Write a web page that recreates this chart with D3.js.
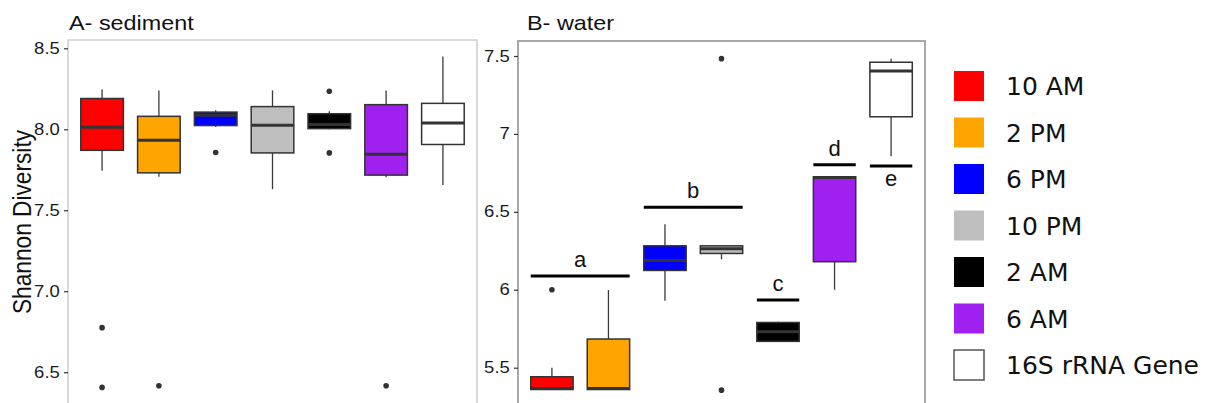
<!DOCTYPE html>
<html>
<head>
<meta charset="utf-8">
<script src="https://d3js.org/d3.v7.min.js"></script>
<style>
    body { margin: 0; background: #fff; }
    text { font-family: "Liberation Sans", Arial, sans-serif; }
</style>
</head>
<body>
<script>
'use strict';

// groups (time of day) and their fill colours
const groups = ["10 AM", "2 PM", "6 PM", "10 PM", "2 AM", "6 AM", "16S rRNA Gene"];
const fills = ["#FF0000", "#FFA500", "#0000FF", "#BEBEBE", "#000000", "#A020F0", "#FFFFFF"];

// A- sediment box stats
const sedLow  = [7.744, 7.707, 8.014, 7.630, 8.000, 7.703, 7.656];
const sedQ1   = [7.870, 7.731, 8.023, 7.854, 8.004, 7.717, 7.906];
const sedMed  = [8.012, 7.932, 8.086, 8.025, 8.030, 7.846, 8.039];
const sedQ3   = [8.190, 8.080, 8.106, 8.140, 8.096, 8.152, 8.160];
const sedHigh = [8.246, 8.240, 8.117, 8.240, 8.112, 8.240, 8.449];
const sedOutGroup = [0, 0, 1, 2, 4, 4, 5];
const sedOutValue = [6.775, 6.406, 6.416, 7.857, 8.235, 7.854, 6.416];
const sedTicks = [6.5, 7.0, 7.5, 8.0, 8.5];

// B- water box stats
const watLow  = [5.360, 5.360, 5.930, 6.195, 5.665, 6.000, 6.856];
const watQ1   = [5.360, 5.360, 6.124, 6.233, 5.669, 6.180, 7.110];
const watMed  = [5.367, 5.367, 6.188, 6.263, 5.730, 6.720, 7.404];
const watQ3   = [5.442, 5.684, 6.282, 6.282, 5.790, 6.725, 7.460];
const watHigh = [5.499, 5.998, 6.420, 6.282, 5.795, 6.725, 7.483];
const watOutGroup = [0, 3, 3];
const watOutValue = [6.000, 7.483, 5.356];
const watTicks = [5.5, 6, 6.5, 7, 7.5];

// significance groups on the water panel
const sigLabels = ["a", "b", "c", "d", "e"];
const sigFrom   = [0, 2, 4, 5, 6];
const sigTo     = [1, 3, 4, 5, 6];
const sigValue  = [6.088, 6.529, 5.934, 6.802, 6.794];
const sigBelow  = [false, false, false, false, true];

// the figure was stretched sideways, text too
const stretch = 1.17;

let svg = d3.select("body").append("svg")
    .attr("width", 1209)
    .attr("height", 403);

drawPanel({
    title: "A- sediment", titleX: 69,
    left: 68, right: 477, top: 40, bottom: 430,
    domain: [6.5, 8.5], range: [372.2, 48.3],
    ticks: sedTicks, fmt: d3.format(".1f"),
    border: "#c9c9c9", borderWidth: 1.4,
    low: sedLow, q1: sedQ1, med: sedMed, q3: sedQ3, high: sedHigh,
    outGroup: sedOutGroup, outValue: sedOutValue
});

let water = drawPanel({
    title: "B- water", titleX: 527,
    left: 518, right: 925, top: 41, bottom: 430,
    domain: [5.5, 7.5], range: [367.7, 56],
    ticks: watTicks, fmt: (d) => String(d),
    border: "#a8a8a8", borderWidth: 2,
    low: watLow, q1: watQ1, med: watMed, q3: watQ3, high: watHigh,
    outGroup: watOutGroup, outValue: watOutValue
});

drawSignificance(water);
drawLegend();

// y axis title
svg.append("text")
    .attr("transform", "translate(31, 222)rotate(-90)scale(1," + stretch + ")")
    .attr("text-anchor", "middle")
    .style("font-size", "22.7px")
    .style("fill", "#111")
    .text("Shannon Diversity");

// draw one boxplot panel, returns its scales
function drawPanel(p) {
    let xScale = d3.scaleBand()
        .domain(groups)
        .range([p.left, p.right])
        .paddingInner(0.25)
        .paddingOuter(0.225);

    let yScale = d3.scaleLinear()
        .domain(p.domain)
        .range(p.range);

    let g = svg.append("g");

    // panel border
    g.append("rect")
        .attr("x", p.left)
        .attr("y", p.top)
        .attr("width", p.right - p.left)
        .attr("height", p.bottom - p.top)
        .attr("fill", "none")
        .attr("stroke", p.border)
        .attr("stroke-width", p.borderWidth);

    // y axis ticks and labels
    let yAxis = d3.axisLeft(yScale)
        .tickValues(p.ticks)
        .tickFormat(p.fmt)
        .tickSize(4)
        .tickPadding(3);
    let ax = g.append("g")
        .attr("transform", "translate(" + p.left + ",0)")
        .call(yAxis);
    ax.select(".domain").remove();
    ax.selectAll(".tick line").attr("stroke", "#333").attr("stroke-width", 1.2);
    ax.selectAll(".tick text")
        .attr("transform", "scale(" + stretch + ",1)")
        .style("font-size", "15.8px")
        .style("font-family", "Liberation Sans")
        .attr("fill", "#1a1a1a");

    let idx = d3.range(groups.length);
    let cx = (i) => xScale(groups[i]) + xScale.bandwidth() / 2;

    // whiskers
    g.selectAll(".whisker")
        .data(idx)
        .enter()
        .append("line")
        .attr("x1", cx)
        .attr("x2", cx)
        .attr("y1", (i) => yScale(p.high[i]))
        .attr("y2", (i) => yScale(p.low[i]))
        .attr("stroke", "#3a3a3a")
        .attr("stroke-width", 1.3);

    // boxes
    g.selectAll(".box")
        .data(idx)
        .enter()
        .append("rect")
        .attr("x", (i) => xScale(groups[i]))
        .attr("width", xScale.bandwidth())
        .attr("y", (i) => yScale(p.q3[i]))
        .attr("height", (i) => Math.max(yScale(p.q1[i]) - yScale(p.q3[i]), 0.5))
        .attr("fill", (i) => fills[i])
        .attr("stroke", "#333")
        .attr("stroke-width", 1.5);

    // medians
    g.selectAll(".median")
        .data(idx)
        .enter()
        .append("line")
        .attr("x1", (i) => xScale(groups[i]))
        .attr("x2", (i) => xScale(groups[i]) + xScale.bandwidth())
        .attr("y1", (i) => yScale(p.med[i]))
        .attr("y2", (i) => yScale(p.med[i]))
        .attr("stroke", "#333")
        .attr("stroke-width", 3);

    // outliers
    g.selectAll(".outlier")
        .data(p.outValue)
        .enter()
        .append("circle")
        .attr("cx", (d, k) => cx(p.outGroup[k]))
        .attr("cy", (d) => yScale(d))
        .attr("r", 2.8)
        .attr("fill", "#333");

    // panel title
    svg.append("text")
        .attr("transform", "translate(" + p.titleX + ",30)scale(" + stretch + ",1)")
        .style("font-size", "20px")
        .style("fill", "#111")
        .text(p.title);

    return { x: xScale, y: yScale };
}

// bars and letters for the water panel
function drawSignificance(sc) {
    let x0 = (k) => sc.x(groups[sigFrom[k]]);
    let x1 = (k) => sc.x(groups[sigTo[k]]) + sc.x.bandwidth();

    svg.selectAll(".sigbar")
        .data(sigValue)
        .enter()
        .append("line")
        .attr("x1", (d, k) => x0(k))
        .attr("x2", (d, k) => x1(k))
        .attr("y1", (d) => sc.y(d))
        .attr("y2", (d) => sc.y(d))
        .attr("stroke", "#000")
        .attr("stroke-width", 3);

    svg.selectAll(".siglabel")
        .data(sigLabels)
        .enter()
        .append("text")
        .attr("x", (d, k) => (x0(k) + x1(k)) / 2)
        .attr("y", (d, k) => sc.y(sigValue[k]) + (sigBelow[k] ? 20 : -9))
        .attr("text-anchor", "middle")
        .style("font-size", "22px")
        .style("fill", "#111")
        .text((d) => d);
}

// legend on the right
function drawLegend() {
    let legY = d3.scalePoint()
        .domain(groups)
        .range([86, 365]);

    svg.selectAll(".legkey")
        .data(groups)
        .enter()
        .append("rect")
        .attr("x", 954)
        .attr("y", (d) => legY(d) - 15)
        .attr("width", 30)
        .attr("height", 30)
        .attr("fill", (d, i) => fills[i])
        .attr("stroke", (d, i) => i == 6 ? "#555" : "none")
        .attr("stroke-width", 1.5);

    svg.selectAll(".legtext")
        .data(groups)
        .enter()
        .append("text")
        .attr("x", 1006)
        .attr("y", (d) => legY(d))
        .attr("dy", "0.36em")
        .style("font-family", "DejaVu Sans")
        .style("font-size", "25px")
        .style("fill", "#111")
        .text((d) => d);
}
</script>
</body>
</html>
